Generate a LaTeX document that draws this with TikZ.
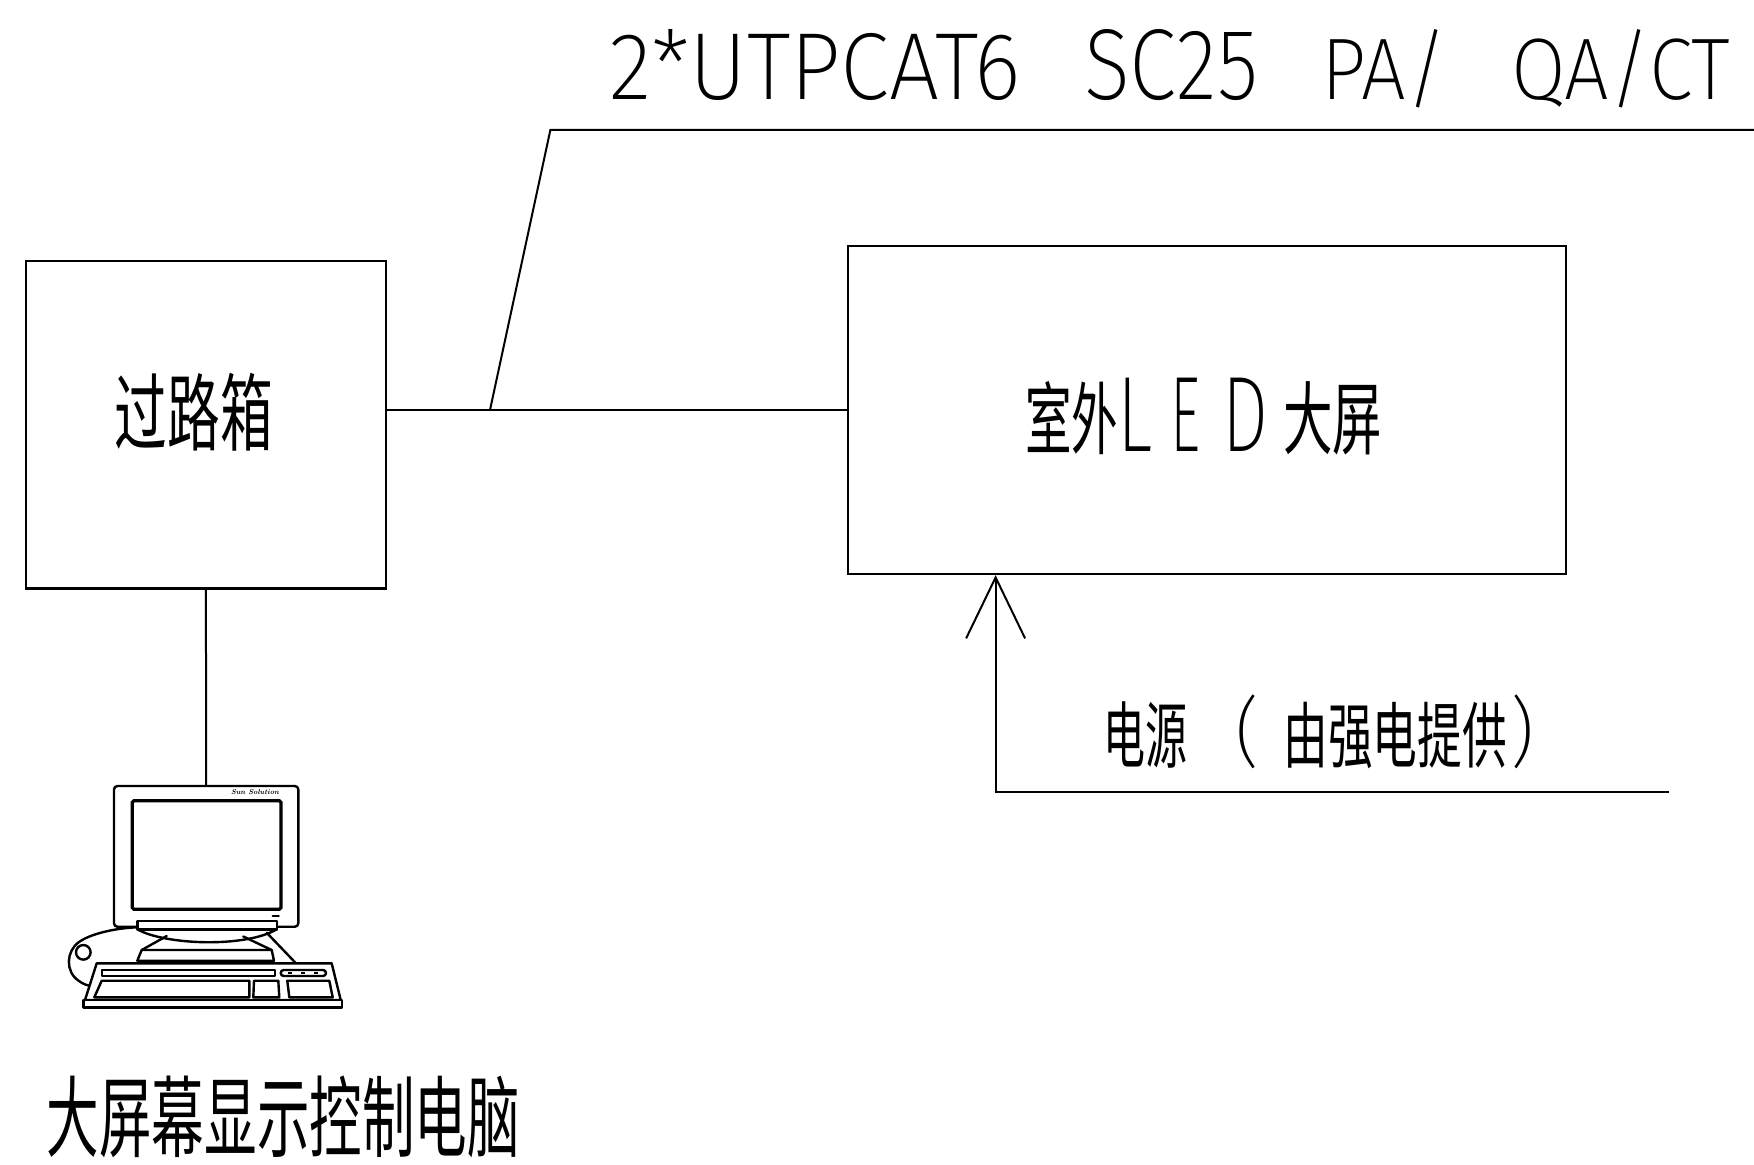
\documentclass[tikz,border=0pt]{standalone}
\usepackage{fontspec}
\usepackage{graphicx}
\usetikzlibrary{arrows.meta}
\newfontfamily\cjkfont{Noto Sans CJK SC}
\newfontfamily\cadfont{Fira Sans ExtraLight}
\begin{document}
\begin{tikzpicture}[x=0.5pt,y=-0.5pt,
  line/.style={line width=1pt},
  blk/.style={draw, line width=1.1pt, inner sep=0pt},
  pcline/.style={line width=1.2pt, line join=round, line cap=round},
  lbl/.style={inner sep=0pt},
  barb/.style={-{Straight Barb[length=30.5pt,width=29.5pt]}}]
\fill[white] (0,0) rectangle (1754,1164);
\useasboundingbox (0,0) rectangle (1754,1164);

% cable designation
\node[lbl, anchor=base west] (c1) at (608.6,99) {\resizebox{206pt}{35pt}{\cadfont 2*UTPCAT6}};
\node[lbl, anchor=base west] (c2) at (1083.7,99) {\resizebox{87pt}{35pt}{\cadfont SC25}};
\node[lbl, anchor=base west] (c3) at (1321,99) {\resizebox{63pt}{35pt}{\cadfont PA/}};
\node[lbl, anchor=base west] (c4) at (1510.6,99) {\resizebox{109.5pt}{35pt}{\cadfont QA/CT}};

% pass-through box and LED screen
\node[blk, minimum width=180.2pt, minimum height=163.9pt] (box) at (205.9,424.5) {};
\node[lbl] (boxlbl) at (193.7,412.3) {\resizebox*{79pt}{39pt}{\cjkfont 过路箱}};
\node[blk, minimum width=359pt, minimum height=164pt] (led) at (1207,410) {};
\node[lbl] (ledlbl1) at (1071.5,418.3) {\resizebox*{46.5pt}{36.7pt}{\cjkfont 室外}};
\node[lbl, anchor=base west] (ledL) at (1117,451.7) {\resizebox{17.5pt}{36.7pt}{\cadfont L}};
\node[lbl, anchor=base west] (ledE) at (1170,451.7) {\resizebox{15pt}{36.7pt}{\cadfont E}};
\node[lbl, anchor=base west] (ledD) at (1222,451.7) {\resizebox{23pt}{36.7pt}{\cadfont D}};
\node[lbl] (ledlbl2) at (1332.5,418.3) {\resizebox*{49.5pt}{36.7pt}{\cjkfont 大屏}};

% signal line with leader
\coordinate (tap) at (490,410);
\coordinate (knee) at (550.4,129.8);
\coordinate (far) at (1754,129.8);
\draw[line] (led.west) -- (box.east |- led.west);
\draw[line] (tap) -- (knee) -- (far);

% power feed
\coordinate (pw) at (995.6,792);
\coordinate (pwend) at (1669,792);
\draw[line, barb] (pwend) -- (pw) -- (pw |- led.south);
\node[lbl] (pwlbl1) at (1145,735) {\resizebox*{42pt}{33.3pt}{\cjkfont 电源}};
\node[lbl] (pwlbl2) at (1247,731.5) {\resizebox*{12pt}{37pt}{\cadfont (}};
\node[lbl] (pwlbl3) at (1395,735) {\resizebox*{111.7pt}{33.3pt}{\cjkfont 由强电提供}};
\node[lbl] (pwlbl4) at (1522.5,731.5) {\resizebox*{12pt}{37pt}{\cadfont )}};

% control computer
\coordinate (pctop) at (206.2,786);
\draw[line] (box.south) -- (pctop);
\draw[pcline, rounded corners=1.7pt] (114,786) rectangle (298.3,926.7);
\draw[line width=1.6pt, rounded corners=0.8pt] (132.3,800.7) rectangle (281,909.3);
\node[lbl] (logo) at (255,792) {\resizebox{24pt}{2.5pt}{\bfseries\itshape Sun Solution}};
\draw[pcline] (272.7,915.7) -- (278.7,915.7);
\draw[pcline, fill=white] (137.3,920.7) rectangle (276.7,929.3);
\draw[pcline] (137.3,929.3) .. controls (165,945) and (245,948) .. (276.7,929.3);
\draw[pcline] (166.7,936) -- (141.7,950);
\draw[pcline] (243.3,936.5) -- (271.7,950);
\draw[pcline] (141.7,950) -- (271.7,950) -- (274,960.7) -- (137.3,960.7) -- cycle;
\draw[pcline] (266.7,932.7) -- (296,963.3);
% mouse
\draw[pcline] (137.3,927.3) .. controls (115,928) and (90,934) .. (79,942)
  .. controls (66,951) and (65,972) .. (79,981) .. controls (83,984) and (88,986) .. (93,986);
\draw[pcline] (83.3,952.3) circle[radius=3.65pt];
% keyboard
\draw[pcline, fill=white] (96.7,963.3) -- (331.7,963.3) -- (340.7,1000) -- (85,1000) -- cycle;
\draw[pcline, fill=white] (83.3,1000) rectangle (341.7,1007.3);
\draw[pcline] (101.7,970) rectangle (275,976);
\draw[pcline, rounded corners=1.5pt] (280.7,970) rectangle (326,976);
\foreach \x in {290,303,316} \draw[line width=0.8pt] (\x-2,973) -- (\x+2,973);
\draw[pcline] (101.7,980.7) -- (249.3,980.7) -- (249.3,997.3) -- (94.3,997.3) -- cycle;
\draw[pcline] (254,980.7) -- (278.3,980.7) -- (279.3,997.3) -- (253.3,997.3) -- cycle;
\draw[pcline] (287.3,980.7) -- (329.3,980.7) -- (332.7,997.3) -- (289.3,997.3) -- cycle;

\node[lbl] (pclbl) at (283.3,1117) {\resizebox*{236.5pt}{41pt}{\cjkfont 大屏幕显示控制电脑}};
\end{tikzpicture}
\end{document}
